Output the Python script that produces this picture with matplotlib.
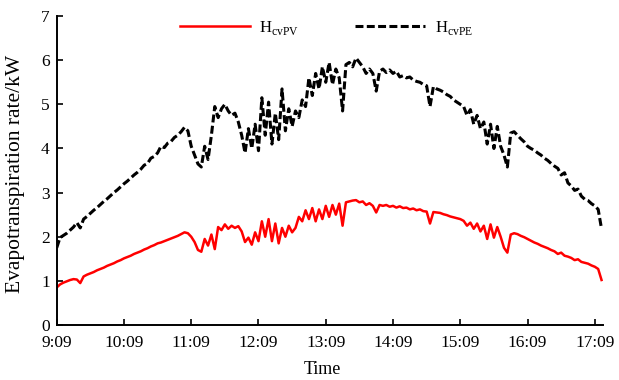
import numpy as np
import matplotlib
matplotlib.use("Agg")
from matplotlib import pyplot as plt

plt.rcParams['font.family'] = ['Liberation Serif', 'DejaVu Serif']
plt.rcParams['mathtext.fontset'] = 'custom'
plt.rcParams['mathtext.rm'] = 'Liberation Serif'

# minutes after 9:09, logged every 3 min
minutes = np.arange(0, 487, 3)

h_cvpv = [
    0.85, 0.92, 0.96, 0.99, 1.02, 1.04, 1.03, 0.95, 1.10, 1.14,
    1.17, 1.20, 1.24, 1.27, 1.30, 1.34, 1.37, 1.40, 1.44, 1.47,
    1.51, 1.54, 1.57, 1.61, 1.64, 1.67, 1.71, 1.74, 1.78, 1.81,
    1.85, 1.87, 1.90, 1.93, 1.96, 1.99, 2.02, 2.06, 2.10, 2.08,
    2.00, 1.88, 1.70, 1.66, 1.95, 1.80, 2.05, 1.72, 2.22, 2.15,
    2.28, 2.18, 2.25, 2.20, 2.24, 2.12, 1.88, 1.98, 1.82, 2.10,
    1.90, 2.35, 2.00, 2.40, 1.90, 2.30, 1.85, 2.20, 2.00, 2.25,
    2.10, 2.20, 2.45, 2.35, 2.60, 2.40, 2.65, 2.35, 2.62, 2.40,
    2.70, 2.45, 2.72, 2.50, 2.75, 2.25, 2.78, 2.80, 2.82, 2.83,
    2.78, 2.80, 2.72, 2.76, 2.70, 2.55, 2.72, 2.70, 2.72, 2.68,
    2.70, 2.66, 2.69, 2.65, 2.66, 2.62, 2.64, 2.60, 2.62, 2.58,
    2.57, 2.30, 2.56, 2.55, 2.54, 2.51, 2.49, 2.46, 2.44, 2.42,
    2.40, 2.36, 2.25, 2.32, 2.18, 2.30, 2.12, 2.25, 1.95, 2.28,
    1.98, 2.22, 2.00, 1.75, 1.64, 2.05, 2.08, 2.06, 2.02, 1.99,
    1.95, 1.91, 1.87, 1.84, 1.80, 1.77, 1.74, 1.70, 1.67, 1.61,
    1.64, 1.57, 1.55, 1.52, 1.47, 1.49, 1.43, 1.41, 1.39, 1.35,
    1.32, 1.27, 1.02,
]

h_cvpe = [
    1.75, 1.98, 2.03, 2.08, 2.15, 2.22, 2.32, 2.20, 2.40, 2.46,
    2.53, 2.60, 2.66, 2.73, 2.80, 2.86, 2.93, 3.00, 3.06, 3.13,
    3.20, 3.26, 3.33, 3.40, 3.46, 3.53, 3.62, 3.66, 3.78, 3.82,
    3.90, 4.05, 4.02, 4.12, 4.16, 4.25, 4.30, 4.38, 4.48, 4.40,
    4.05, 3.85, 3.65, 3.58, 4.05, 3.75, 4.30, 4.95, 4.70, 4.90,
    5.00, 4.85, 4.75, 4.80, 4.60, 4.30, 3.90, 4.45, 4.00, 4.55,
    3.95, 5.15, 4.30, 5.05, 4.10, 4.80, 4.20, 5.35, 4.40, 4.90,
    4.50, 4.85, 4.70, 5.10, 4.95, 5.60, 5.20, 5.70, 5.35, 5.85,
    5.50, 5.95, 5.45, 5.80, 5.60, 4.85, 5.90, 5.95, 5.85, 6.05,
    5.95, 5.85, 5.70, 5.80, 5.70, 5.30, 5.75, 5.80, 5.72, 5.78,
    5.70, 5.75, 5.62, 5.65, 5.60, 5.62, 5.55, 5.52, 5.50, 5.45,
    5.42, 4.95, 5.40, 5.35, 5.32, 5.28, 5.22, 5.18, 5.10, 5.05,
    5.00, 4.95, 4.75, 4.88, 4.55, 4.75, 4.45, 4.60, 4.10, 4.55,
    4.00, 4.50, 4.05, 3.85, 3.58, 4.35, 4.38, 4.30, 4.22, 4.15,
    4.05, 4.00, 3.96, 3.90, 3.85, 3.78, 3.73, 3.66, 3.60, 3.55,
    3.40, 3.45, 3.22, 3.15, 3.05, 3.08, 2.92, 2.85, 2.82, 2.75,
    2.70, 2.62, 2.18,
]

tick_minutes = [0, 60, 120, 180, 240, 300, 360, 420, 480]
tick_labels = ['9:09', '10:09', '11:09', '12:09', '13:09',
               '14:09', '15:09', '16:09', '17:09']

fig = plt.figure(figsize=(6.19, 3.80), dpi=100)
ax = fig.add_axes([0.0916, 0.1447, 0.882, 0.813])

ax.plot(minutes, h_cvpv, color='#ff0000', lw=1.8,
        label=r'H$_\mathregular{cvPV}$')
ax.plot(minutes, h_cvpe, color='black', lw=2.2, dashes=(2.6, 1.1),
        label=r'H$_\mathregular{cvPE}$')

ax.set_xlim(0, 487)
ax.set_ylim(0, 7)
ax.set_xticks(tick_minutes)
ax.set_xticklabels(tick_labels)
ax.set_yticks(range(0, 8))

for s in ['top', 'right']:
    ax.spines[s].set_visible(False)
for s in ['left', 'bottom']:
    ax.spines[s].set_linewidth(1.4)
ax.tick_params(direction='in', length=4.5, width=1.2, labelsize=12.5, pad=5)
ax.tick_params(axis='x', pad=7)

ax.set_xlabel('Time', fontsize=13)
ax.set_ylabel('Evapotranspiration rate/kW', fontsize=15.5)
ax.xaxis.set_label_coords(0.486, -0.118)
ax.yaxis.set_label_coords(-0.058, 0.49)

ax.legend(loc='center', bbox_to_anchor=(0.527, 0.926),
          bbox_transform=fig.transFigure, ncol=2, frameon=False,
          fontsize=12, handlelength=4.2, handletextpad=0.55,
          columnspacing=3.4)

fig.savefig('out.png', dpi=100)
